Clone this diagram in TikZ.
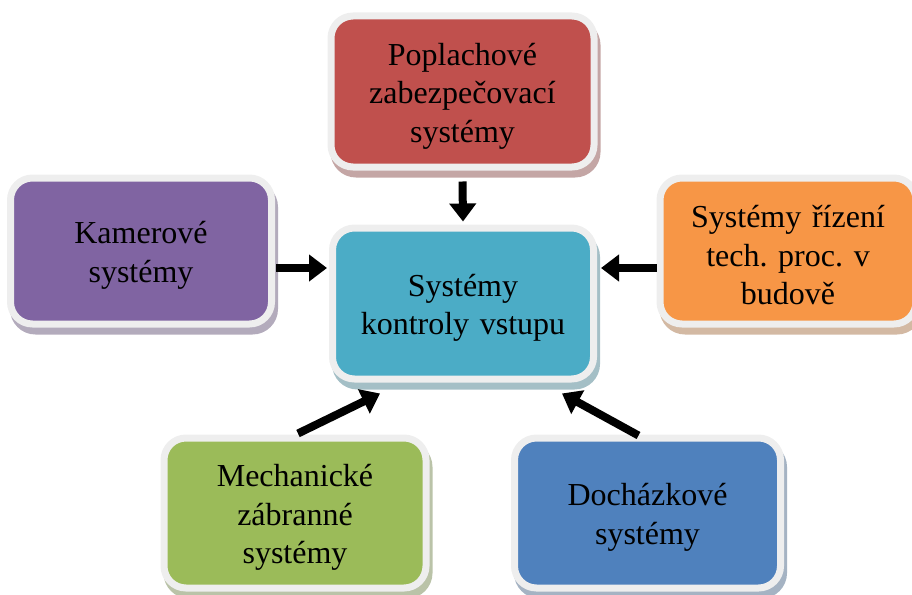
\documentclass[tikz,border=0pt]{standalone}
\usepackage{fontspec}
\setmainfont{Liberation Serif}
\usetikzlibrary{arrows.meta,shadows}
\definecolor{cred}{HTML}{C0504D}
\definecolor{cpurple}{HTML}{8064A2}
\definecolor{caqua}{HTML}{4BACC6}
\definecolor{corange}{HTML}{F79646}
\definecolor{cgreen}{HTML}{9BBB59}
\definecolor{cblue}{HTML}{4F81BD}
\definecolor{cborder}{HTML}{EEEEEE}
\tikzset{
  sysbox/.style={draw=cborder, line width=7pt, rounded corners=22pt, fill=#1,
    inner sep=0pt, align=center, text width=245pt,
    font=\fontsize{32}{38.5}\selectfont\frenchspacing,
    execute at begin node={\rule{0pt}{31pt}},
    drop shadow={shadow xshift=3pt, shadow yshift=-7pt, fill=#1!45!gray!60!white,
      draw=#1!45!gray!60!white, line width=7pt, opacity=1}},
  flow/.style={line width=8pt, -{Triangle[length=18pt,width=26pt]}}
}
\begin{document}
\begin{tikzpicture}[x=1pt,y=-1pt]
\useasboundingbox (0,0) rectangle (912,594);
\node[sysbox=cred, minimum width=263pt, minimum height=151pt] (alarm) at (462.5,91.5) {Poplachové\\zabezpečovací\\systémy};
\node[sysbox=cpurple, minimum width=261pt, minimum height=146pt] (cam) at (141,251) {Kamerové\\systémy};
\node[sysbox=caqua, minimum width=261pt, minimum height=151pt] (acc) at (463,303.5) {Systémy\\kontroly vstupu};
\node[sysbox=corange, minimum width=256pt, minimum height=146pt] (bms) at (788,251) {Systémy řízení\\tech. proc. v\\budově};
\node[sysbox=cgreen, minimum width=262pt, minimum height=150pt] (mech) at (295,513) {Mechanické\\zábranné\\systémy};
\node[sysbox=cblue, minimum width=266pt, minimum height=150pt] (att) at (647.5,513) {Docházkové\\systémy};
\draw[flow] ([yshift=-11pt]alarm.south) -- ([yshift=3pt]acc.north);
\draw[flow] ([xshift=1pt,yshift=-17pt]cam.east) -- ([xshift=-2pt,yshift=35.5pt]acc.west);
\draw[flow] ([xshift=0pt,yshift=-17pt]bms.west) -- ([xshift=4pt,yshift=35.5pt]acc.east);
\draw[flow] ([xshift=3pt,yshift=1pt]mech.north) -- ([xshift=-83pt,yshift=-11pt]acc.south);
\draw[flow] ([xshift=-9pt,yshift=-1pt]att.north) -- ([xshift=99pt,yshift=-11pt]acc.south);
\end{tikzpicture}
\end{document}
